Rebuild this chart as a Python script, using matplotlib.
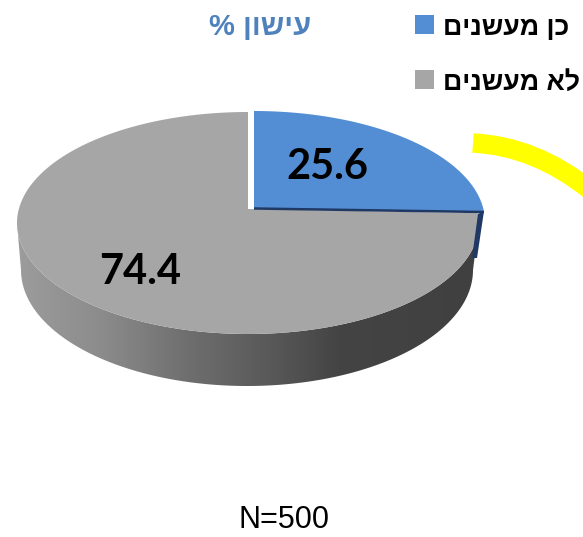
import matplotlib
matplotlib.use("Agg")
import matplotlib.pyplot as plt
import numpy as np
from matplotlib.colors import LinearSegmentedColormap
from matplotlib.patches import PathPatch, Polygon, Rectangle
from matplotlib.path import Path

categories = ["כן מעשנים", "לא מעשנים"]
values = [25.6, 74.4]
title = "עישון %"
note = "N=500"

blue = "#538ed5"
gray = "#a6a6a6"
navy = "#1f3864"


# matplotlib has no bidi, so hebrew is flipped into visual order
def heb(s):
    return s[::-1]


# point on the rim seen from the off-centre apex of the tilted pie
def rim(ang, apex, cen, a, b):
    dx = np.sin(ang)
    dy = -np.cos(ang) * b / a
    px = apex[0] - cen[0]
    py = apex[1] - cen[1]
    A = (dx / a) ** 2 + (dy / b) ** 2
    B = 2 * (px * dx / a ** 2 + py * dy / b ** 2)
    C = (px / a) ** 2 + (py / b) ** 2 - 1
    s = (-B + np.sqrt(B ** 2 - 4 * A * C)) / (2 * A)
    return np.column_stack([apex[0] + s * dx, apex[1] + s * dy])


fig = plt.figure(figsize=(5.83, 5.37), dpi=100)
ax = fig.add_axes([0, 0, 1, 1])
ax.set_xlim(0, 583)
ax.set_ylim(537, 0)
ax.axis("off")

split = 2 * np.pi * values[0] / sum(values)

# grey slice, side wall first
gray_apex = (248, 209)
t = np.linspace(split, 2 * np.pi, 300)
top_rim = rim(t, gray_apex, (248, 223), 231, 111)

wall_path = np.vstack([
    np.column_stack([248 + 231 * np.cos(np.linspace(np.pi, 0, 200)),
                     223 + 111 * np.sin(np.linspace(np.pi, 0, 200))]),
    np.column_stack([247 + 226 * np.cos(np.linspace(0, np.pi, 200)),
                     270 + 116 * np.sin(np.linspace(0, np.pi, 200))]),
])
wall_cmap = LinearSegmentedColormap.from_list(
    "wall", [(0, "#9c9c9c"), (0.18, "#8c8c8c"), (0.375, "#6e6e6e"),
             (0.57, "#565656"), (0.7, "#444444"), (1, "#404040")])
im = ax.imshow(np.linspace(0, 1, 256).reshape(1, -1), cmap=wall_cmap,
               extent=(17, 478, 392, 200), aspect="auto", zorder=1)
clip = Polygon(wall_path, closed=True, transform=ax.transData, fc="none", ec="none")
ax.add_patch(clip)
im.set_clip_path(clip)
ax.set_xlim(0, 583)
ax.set_ylim(537, 0)

ax.add_patch(Polygon(np.vstack([gray_apex, top_rim]), closed=True, fc=gray, ec="none", zorder=2))

# blue slice
blue_apex = (254, 208)
t = np.linspace(0, split, 150)
blue_rim = rim(t, blue_apex, (254, 222), 231, 111)
ax.add_patch(Polygon([(484, 211), (477, 258), (472, 258), (478, 214)],
                     closed=True, fc=navy, ec="none", zorder=3))
ax.add_patch(Polygon(np.vstack([blue_apex, blue_rim]), closed=True, fc=blue, ec="none", zorder=4))
ax.plot([254, 484], [208.5, 212], color=navy, lw=1.8, zorder=5, solid_capstyle="butt")

# yellow arc on the right edge
arc = Path([(473, 143), (535, 146), (590, 190)], [Path.MOVETO, Path.CURVE3, Path.CURVE3])
ax.add_patch(PathPatch(arc, fc="none", ec="#ffff00", lw=14, capstyle="butt", zorder=2))

ax.text(327, 167, f"{values[0]}", family="Lato", weight="bold", fontsize=30,
        color="black", ha="center", va="center", zorder=6)
ax.text(140, 272, f"{values[1]}", family="Lato", weight="bold", fontsize=30,
        color="black", ha="center", va="center", zorder=6)

# legend and titles
for lab, col, yy in zip(categories, [blue, gray], [25, 80]):
    ax.add_patch(Rectangle((415, yy - 10), 19, 19, fc=col, ec="none"))
    ax.text(443, yy + 3, heb(lab), family="Liberation Sans", weight="bold", fontsize=19.3,
            color="black", ha="left", va="center")

ax.text(260, 27, heb(title), family="Liberation Sans", weight="bold", fontsize=21,
        color="#4f81bd", ha="center", va="center")
ax.text(284, 520, note, family="Liberation Sans", fontsize=22, color="black",
        ha="center", va="center")

fig.savefig("out.png", dpi=100)
